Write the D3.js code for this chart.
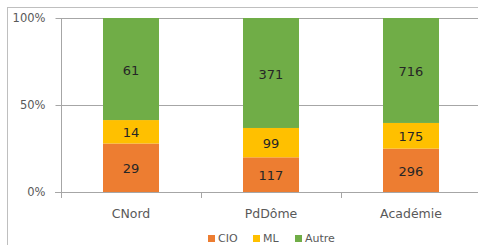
<!DOCTYPE html>
<html><head><meta charset="utf-8">
<script src="https://cdn.jsdelivr.net/npm/d3@7"></script>
<style>
html,body{margin:0;padding:0;background:#fff;}
svg{display:block;font-family:"DejaVu Sans",Verdana,sans-serif;}
</style></head>
<body><svg id="c" width="478" height="245"></svg>
<script>
const categories = ["CNord", "PdDôme", "Académie"];
const seriesNames = ["CIO", "ML", "Autre"];
const cio = [29, 117, 296];
const ml = [14, 99, 175];
const autre = [61, 371, 716];
const yTicks = [0, 0.5, 1];
const yTickLabels = ["0%", "50%", "100%"];
const colors = ["#ED7D31", "#FFC000", "#70AD47"];

const rows = categories.map((c, i) => ({cat: c, CIO: cio[i], ML: ml[i], Autre: autre[i]}));
const stacked = d3.stack().keys(seriesNames).offset(d3.stackOffsetExpand)(rows);

const svg = d3.select("#c");
// outer chart border
svg.append("rect").attr("x", 7.5).attr("y", 7.5).attr("width", 500).attr("height", 260)
  .attr("fill", "none").attr("stroke", "#BFBFBF").attr("stroke-width", 1);

const x = d3.scaleBand().domain(categories).range([61, 481]).paddingInner(0.6).paddingOuter(0.3);
const y = d3.scaleLinear().domain([0, 1]).range([192, 18]);

// gridlines
svg.append("g").selectAll("line").data(yTicks.filter(t => t > 0)).join("line")
  .attr("x1", 61).attr("x2", 481).attr("y1", d => Math.round(y(d)) + 0.5).attr("y2", d => Math.round(y(d)) + 0.5)
  .attr("stroke", "#A6A6A6").attr("stroke-width", 1);

// bars
const g = svg.append("g");
stacked.forEach((s, si) => {
  g.selectAll(null).data(s).join("rect")
    .attr("x", d => x(d.data.cat)).attr("width", x.bandwidth())
    .attr("y", d => y(d[1])).attr("height", d => y(d[0]) - y(d[1]))
    .attr("fill", colors[si]);
  g.selectAll(null).data(s).join("text")
    .attr("x", d => x(d.data.cat) + x.bandwidth() / 2)
    .attr("y", d => (y(d[0]) + y(d[1])) / 2 + 1)
    .attr("text-anchor", "middle").attr("dy", "0.36em")
    .attr("font-size", 13).attr("fill", "#262626")
    .text(d => d.data[s.key]);
});

// y axis
const yAxis = d3.axisLeft(y).tickValues(yTicks).tickFormat((d, i) => yTickLabels[i]).tickSize(6).tickPadding(10);
const ya = svg.append("g").attr("transform", "translate(61.5,0)").call(yAxis);
ya.select(".domain").remove();
ya.selectAll(".tick line").attr("stroke", "#A6A6A6");
ya.selectAll(".tick text").attr("font-size", 11.5).attr("fill", "#595959").attr("font-family", "DejaVu Sans, Verdana, sans-serif");
svg.append("line").attr("x1", 61.5).attr("x2", 61.5).attr("y1", 18).attr("y2", 198).attr("stroke", "#A6A6A6");

// x axis
svg.append("line").attr("x1", 55).attr("x2", 481).attr("y1", 192.5).attr("y2", 192.5).attr("stroke", "#A6A6A6");
svg.append("g").selectAll("line").data(categories.slice(1)).join("line")
  .attr("x1", d => Math.round(x(d) - (x.step() - x.bandwidth()) / 2) + 0.5)
  .attr("x2", d => Math.round(x(d) - (x.step() - x.bandwidth()) / 2) + 0.5)
  .attr("y1", 192).attr("y2", 198).attr("stroke", "#A6A6A6");
svg.append("g").selectAll("text").data(categories).join("text")
  .attr("x", d => x(d) + x.bandwidth() / 2).attr("y", 214)
  .attr("text-anchor", "middle").attr("dy", "0.35em")
  .attr("font-size", 12.5).attr("fill", "#595959").text(d => d);

// legend
const legendX = [208, 253, 295];
const lg = svg.append("g");
seriesNames.forEach((n, i) => {
  lg.append("rect").attr("x", legendX[i]).attr("y", 235).attr("width", 7).attr("height", 7).attr("fill", colors[i]);
  lg.append("text").attr("x", legendX[i] + 10).attr("y", 238.5).attr("dy", "0.35em")
    .attr("font-size", 11).attr("fill", "#595959").text(n);
});
</script></body></html>
